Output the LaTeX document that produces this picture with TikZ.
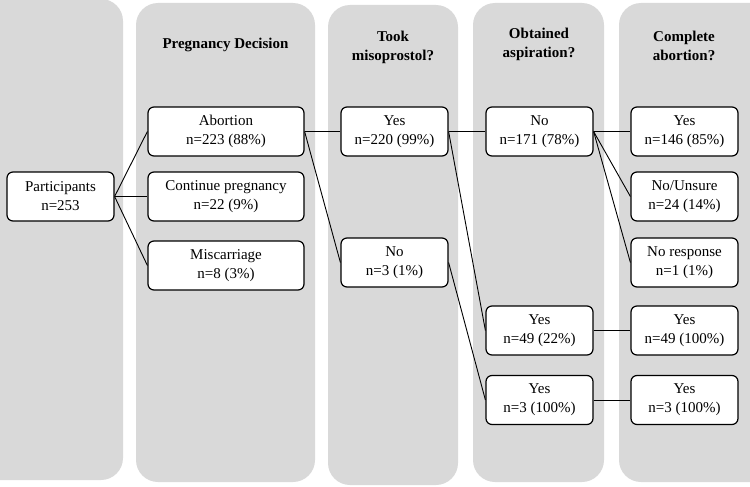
\documentclass[tikz,border=0pt]{standalone}
\usepackage{fontspec}
\setmainfont{Liberation Serif}
\definecolor{lane}{HTML}{D9D9D9}
\tikzset{
  lanebox/.style={fill=lane, draw=none, rounded corners=22pt},
  nbox/.style={draw=black, fill=white, line width=1.2pt, rounded corners=6pt, align=center,
    inner sep=0pt, minimum height=49pt, font=\fontsize{15}{19}\selectfont},
  nw/.style={nbox, minimum width=107pt},
  ww/.style={nbox, minimum width=156pt},
  head/.style={align=center, font=\fontsize{15}{19}\selectfont\bfseries},
  conn/.style={draw=black, line width=0.9pt}
}
\begin{document}
\begin{tikzpicture}[x=1pt, y=-1pt]
\useasboundingbox (0,0) rectangle (750,487);
\clip (0,0) rectangle (750,487);
% lanes
\fill[lanebox] (-30,-1) rectangle (123,480);
\fill[lanebox] (136,3) rectangle (315,482);
\fill[lanebox] (328,5) rectangle (458,485);
\fill[lanebox] (473,3) rectangle (604,482);
\fill[lanebox] (619,3) rectangle (772,482);
% headers
\node[head] (h1) at (225.5,45) {Pregnancy Decision};
\node[head] (h2) at (393,47.5) {Took\\misoprostol?};
\node[head] (h3) at (539,44.5) {Obtained\\aspiration?};
\node[head] (h4) at (684,46) {Complete\\abortion?};
% nodes
\node[nw] (part) at (60.5,196.5) {Participants\\n=253};
\node[ww] (abo) at (226,131.5) {Abortion\\n=223 (88\%)};
\node[ww] (cont) at (226,196.5) {Continue pregnancy\\n=22 (9\%)};
\node[ww] (mis) at (226,265.5) {Miscarriage\\n=8 (3\%)};
\node[nw] (tyes) at (394.5,131.5) {Yes\\n=220 (99\%)};
\node[nw] (tno) at (394.5,262.5) {No\\n=3 (1\%)};
\node[nw] (ano) at (539.5,131.5) {No\\n=171 (78\%)};
\node[nw] (a49) at (539.5,330.5) {Yes\\n=49 (22\%)};
\node[nw] (a3) at (539.5,400) {Yes\\n=3 (100\%)};
\node[nw] (cyes) at (684.5,131.5) {Yes\\n=146 (85\%)};
\node[nw] (cnu) at (684.5,196.5) {No/Unsure\\n=24 (14\%)};
\node[nw] (cnr) at (684.5,262.5) {No response\\n=1 (1\%)};
\node[nw] (c49) at (684.5,330.5) {Yes\\n=49 (100\%)};
\node[nw] (c3) at (684.5,400) {Yes\\n=3 (100\%)};
% connectors
\draw[conn] (part.east) -- (abo.west);
\draw[conn] (part.east) -- (cont.west);
\draw[conn] (part.east) -- (mis.west);
\draw[conn] (abo.east) -- (tyes.west);
\draw[conn] (abo.east) -- (tno.west);
\draw[conn] (tyes.east) -- (ano.west);
\draw[conn] (tyes.east) -- (a49.west);
\draw[conn] (tno.east) -- (a3.west);
\draw[conn] (ano.east) -- (cyes.west);
\draw[conn] (ano.east) -- (cnu.west);
\draw[conn] (ano.east) -- (cnr.west);
\draw[conn] (a49.east) -- (c49.west);
\draw[conn] (a3.east) -- (c3.west);
\end{tikzpicture}
\end{document}
